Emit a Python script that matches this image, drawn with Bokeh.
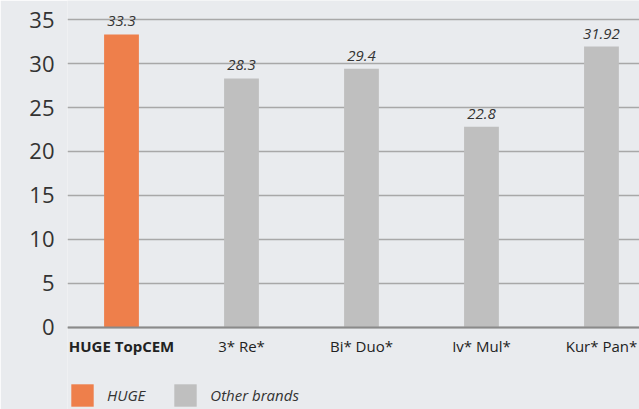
from bokeh.plotting import figure
from bokeh.models import ColumnDataSource, Legend, LegendItem, FixedTicker, Range1d, Span
from bokeh.core.properties import value
from bokeh.embed import file_html
from bokeh.resources import INLINE

categories = ["HUGE TopCEM", "3* Re*", "Bi* Duo*", "Iv* Mul*", "Kur* Pan*"]
values = [33.3, 28.3, 29.4, 22.8, 31.92]
value_labels = ["33.3", "28.3", "29.4", "22.8", "31.92"]
groups = ["HUGE", "Other brands", "Other brands", "Other brands", "Other brands"]
y_ticks = [0, 5, 10, 15, 20, 25, 30, 35]

BG = "#e9ebee"
ORANGE = "#ee7f4b"
GREY = "#bfbfbf"
FONT = "Open Sans"

xs = list(range(len(categories)))
base = [0] * len(categories)
styles = ["bold" if g == "HUGE" else "normal" for g in groups]

src = ColumnDataSource(dict(x=xs, top=values, base=base, cat=categories,
                            lab=value_labels, style=styles))
huge_idx = [i for i, g in enumerate(groups) if g == "HUGE"]
other_idx = [i for i, g in enumerate(groups) if g != "HUGE"]
src_h = ColumnDataSource(dict(x=[xs[i] for i in huge_idx], top=[values[i] for i in huge_idx]))
src_o = ColumnDataSource(dict(x=[xs[i] for i in other_idx], top=[values[i] for i in other_idx]))

p = figure(width=639, height=409, output_backend="svg", toolbar_location=None,
           x_range=Range1d(-0.45, 4.317), y_range=Range1d(-9.32, 37.16),
           min_border_left=67, min_border_right=0, min_border_top=0, min_border_bottom=0)
p.background_fill_color = BG
p.border_fill_color = BG
p.outline_line_color = None
p.xaxis.visible = False

# grid
p.xgrid.grid_line_color = None
p.ygrid.ticker = FixedTicker(ticks=y_ticks)
p.ygrid.grid_line_color = "#a8a8a8"
p.ygrid.grid_line_width = 1.5

r_h = p.vbar(x="x", top="top", width=0.29, source=src_h, fill_color=ORANGE, line_color=None)
r_o = p.vbar(x="x", top="top", width=0.29, source=src_o, fill_color=GREY, line_color=None)

# baseline
p.add_layout(Span(location=0, dimension="width", line_color="#8a8a8a", line_width=2))

# y axis
p.yaxis.ticker = FixedTicker(ticks=y_ticks)
p.yaxis.axis_line_color = None
p.yaxis.major_tick_line_color = None
p.yaxis.minor_tick_line_color = None
p.yaxis.major_label_text_font = FONT
p.yaxis.major_label_text_font_size = "22px"
p.yaxis.major_label_text_color = "#333333"
p.yaxis.major_label_standoff = 7

# value labels
p.text(x="x", y="top", text="lab", source=src, y_offset=-8,
       text_align="center", text_baseline="bottom",
       text_font=value(FONT), text_font_style="italic",
       text_font_size="15px", text_color="#333333")
# category labels
p.text(x="x", y="base", text="cat", source=src, y_offset=19,
       text_align="center", text_baseline="middle",
       text_font=value(FONT), text_font_style="style",
       text_font_size="15px", text_color="#222222")

legend = Legend(items=[LegendItem(label="HUGE", renderers=[r_h]),
                       LegendItem(label="Other brands", renderers=[r_o])],
                location=(1, 0), orientation="horizontal",
                glyph_width=28, glyph_height=28, label_standoff=11, spacing=26,
                padding=0, margin=0, border_line_color=None, background_fill_alpha=0,
                label_text_font=FONT, label_text_font_style="italic",
                label_text_font_size="15px", label_text_color="#333333")
p.add_layout(legend, "center")

open("out.html", "w").write(file_html(p, INLINE))
